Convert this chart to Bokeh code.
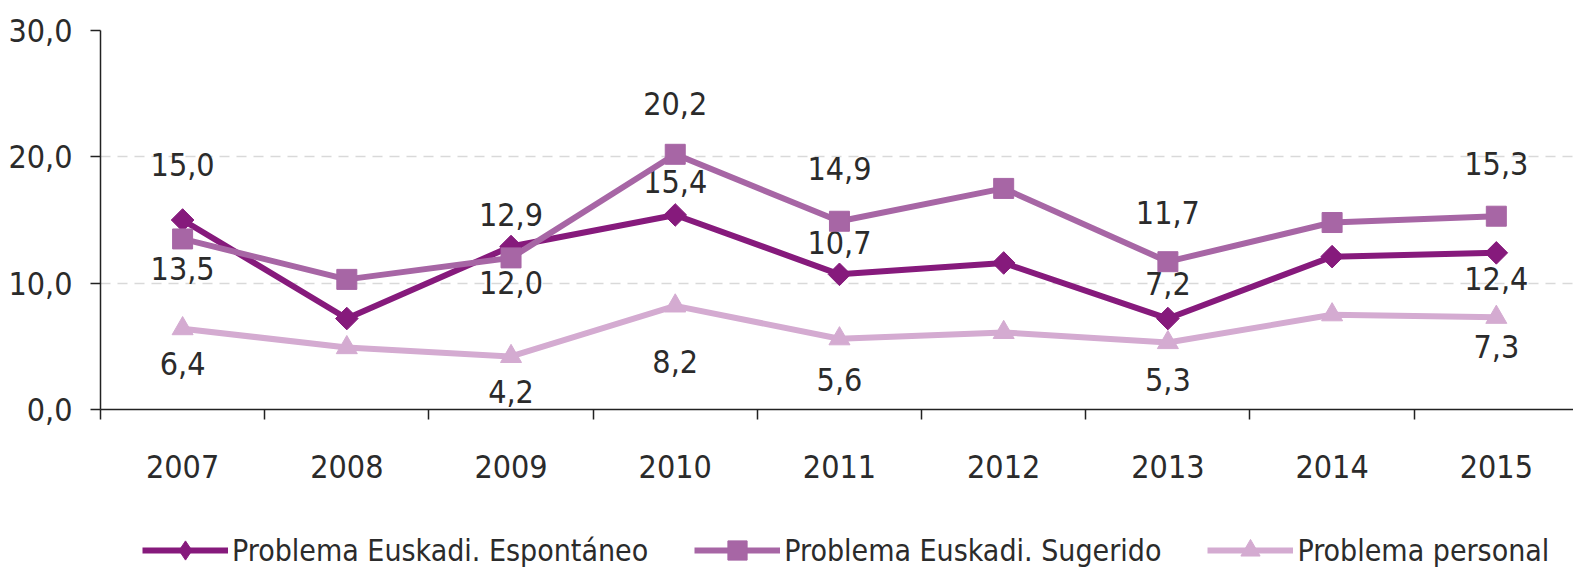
import math
from bokeh.plotting import figure
from bokeh.layouts import column
from bokeh.models import (ColumnDataSource, Range1d, FixedTicker, Legend, LegendItem)
from bokeh.core.properties import value
from bokeh.embed import file_html
from bokeh.resources import INLINE

years = ["2007", "2008", "2009", "2010", "2011", "2012", "2013", "2014", "2015"]
espontaneo = [15.0, 7.2, 12.9, 15.4, 10.7, 11.6, 7.2, 12.1, 12.4]
sugerido = [13.5, 10.3, 12.0, 20.2, 14.9, 17.5, 11.7, 14.8, 15.3]
personal = [6.4, 4.9, 4.2, 8.2, 5.6, 6.1, 5.3, 7.5, 7.3]
names = ["Problema Euskadi. Espontáneo", "Problema Euskadi. Sugerido", "Problema personal"]
y_ticks = [0, 10, 20, 30]

# which points carry a data label
labelled = [True, False, True, True, True, False, True, False, True]
# label placement (screen px, positive = above)
off_esp = [56, 0, 32, 33, 32, 0, 35, 0, -26]
off_sug = [-30, 0, -25, 51, 53, 0, 49, 0, 53]
off_per = [-35, 0, -35, -56, -41, 0, -37, 0, -29]

FONT = "DejaVu Sans Condensed"
TXT = "#2b2b2b"
colors = ["#861a7c", "#a766a5", "#d4abd1"]
# marker styles: (marker, size, angle)
markers = [("square", 16, math.pi / 4), ("square", 20, 0.0), ("triangle", 21, 0.0)]
legend_markers = ["diamond", "square", "triangle"]

def fmt(v):
    return f"{v:.1f}".replace(".", ",")

p = figure(width=1573, height=485, output_backend="svg", toolbar_location=None,
           x_range=Range1d(-0.5, 8.47), y_range=Range1d(0, 30),
           min_border_left=100, min_border_right=0, min_border_top=30,
           min_border_bottom=76)
p.outline_line_color = None
p.background_fill_color = "white"
p.border_fill_color = "white"

# legend strip below the chart
lg = figure(width=1573, height=86, output_backend="svg", toolbar_location=None,
            x_range=Range1d(0, 1), y_range=Range1d(0, 1),
            x_axis_location=None, y_axis_location=None,
            min_border_left=0, min_border_right=0, min_border_top=0, min_border_bottom=0)
lg.outline_line_color = None
lg.xgrid.grid_line_color = None
lg.ygrid.grid_line_color = None

xs = list(range(len(years)))
series = [(espontaneo, off_esp), (sugerido, off_sug), (personal, off_per)]
items = []
for (vals, offs), (mk, ms, ang), lmk, c, nm in zip(series, markers, legend_markers, colors, names):
    src = ColumnDataSource(dict(x=xs, y=vals))
    p.line("x", "y", source=src, line_color=c, line_width=6)
    p.scatter("x", "y", source=src, marker=mk, size=ms, angle=ang,
              fill_color=c, line_color=c)
    lx = [x for x, f in zip(xs, labelled) if f]
    ly = [v for v, f in zip(vals, labelled) if f]
    lo = [-o for o, f in zip(offs, labelled) if f]
    lt = [fmt(v) for v, f in zip(vals, labelled) if f]
    lsrc = ColumnDataSource(dict(x=lx, y=ly, t=lt, o=lo))
    p.text("x", "y", text="t", source=lsrc, y_offset="o", text_align="center",
           text_baseline="middle", text_font=value(FONT), text_font_size="32px",
           text_color=TXT)
    # legend proxies (hidden renderers sharing the series data)
    l = lg.line("x", "y", source=src, line_color=c, line_width=6, visible=False)
    s = lg.scatter("x", "y", source=src, marker=lmk, size=ms,
                   fill_color=c, line_color=c, visible=False)
    items.append(LegendItem(label=nm, renderers=[l, s]))

# grid
p.xgrid.grid_line_color = None
p.ygrid.ticker = FixedTicker(ticks=y_ticks[1:])
p.ygrid.grid_line_color = "#d9d9d9"
p.ygrid.grid_line_dash = "10 7"
p.ygrid.grid_line_width = 1.5

# y axis
p.yaxis.ticker = FixedTicker(ticks=y_ticks)
p.yaxis.major_label_overrides = {t: fmt(t) for t in y_ticks}
p.yaxis.major_label_text_font = FONT
p.yaxis.major_label_text_font_size = "32px"
p.yaxis.major_label_text_color = TXT
p.yaxis.axis_line_color = "#222222"
p.yaxis.axis_line_width = 1.5
p.yaxis.major_tick_line_color = "#222222"
p.yaxis.major_tick_line_width = 1.5
p.yaxis.major_tick_out = 10
p.yaxis.major_tick_in = 0
p.yaxis.minor_tick_line_color = None
p.yaxis.major_label_standoff = 18

# x axis
bounds = [i + 0.5 for i in range(len(years) - 1)] + [-0.5]
p.xaxis.ticker = FixedTicker(ticks=xs, minor_ticks=bounds)
p.xaxis.major_label_overrides = {i: y for i, y in enumerate(years)}
p.xaxis.major_label_text_font = FONT
p.xaxis.major_label_text_font_size = "32px"
p.xaxis.major_label_text_color = TXT
p.xaxis.axis_line_color = "#222222"
p.xaxis.axis_line_width = 1.5
p.xaxis.major_tick_line_color = None
p.xaxis.major_tick_out = 0
p.xaxis.major_tick_in = 0
p.xaxis.minor_tick_line_color = "#222222"
p.xaxis.minor_tick_line_width = 1.5
p.xaxis.minor_tick_out = 10
p.xaxis.minor_tick_in = 0
p.xaxis.major_label_standoff = 35

legend = Legend(items=items, orientation="horizontal", location=(42, -3),
                label_text_font=FONT, label_text_font_size="30px", label_text_color=TXT,
                glyph_width=86, glyph_height=48, label_standoff=4, spacing=46,
                border_line_color=None, background_fill_alpha=0, margin=0,
                padding=0, inactive_fill_alpha=0)
lg.add_layout(legend, "center")

layout = column(p, lg, spacing=0)
open("out.html", "w").write(file_html(layout, INLINE))
